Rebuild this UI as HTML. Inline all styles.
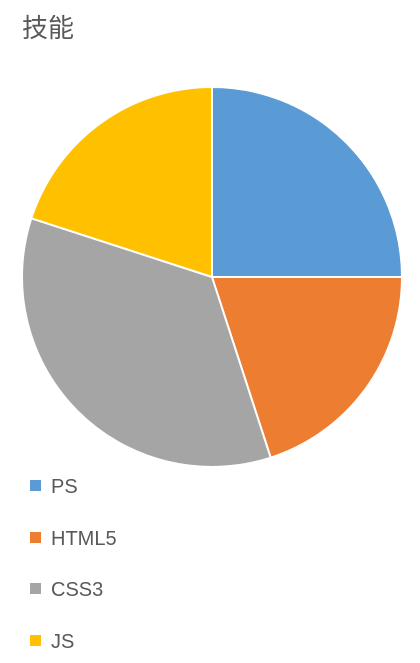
<!DOCTYPE html>
<html><head><meta charset="utf-8">
<style>
html,body{margin:0;padding:0;background:#fff;width:420px;height:663px;overflow:hidden}
body{font-family:"Liberation Sans","Noto Sans CJK SC",sans-serif}
#title{position:absolute;left:22px;top:8px;font-size:26px;color:#595959}
.leg{position:absolute;left:30px;font-size:20px;color:#595959;height:24px;line-height:24px}
.sw{display:inline-block;width:11px;height:11px;margin-right:10px;vertical-align:middle;position:relative;top:-2px}
</style></head>
<body>
<div id="title">技能</div>
<svg id="pie" width="420" height="663" style="position:absolute;left:0;top:0"></svg>
<div id="legend"></div>
<script>
const categories=["PS","HTML5","CSS3","JS"];
const values=[25,20,35,20];
const colors=["#5b9bd5","#ed7d31","#a5a5a5","#ffc000"];
const cx=212,cy=277,r=190;
const svg=document.getElementById('pie');
const total=values.reduce((a,b)=>a+b,0);
let acc=0;
function pt(f){const a=f*2*Math.PI;return [cx+r*Math.sin(a),cy-r*Math.cos(a)];}
values.forEach((v,i)=>{
  const s=acc/total,e=(acc+v)/total;acc+=v;
  const [x1,y1]=pt(s),[x2,y2]=pt(e);
  const p=document.createElementNS('http://www.w3.org/2000/svg','path');
  p.setAttribute('d',`M${cx},${cy}L${x1},${y1}A${r},${r} 0 ${e-s>0.5?1:0} 1 ${x2},${y2}Z`);
  p.setAttribute('fill',colors[i]);p.setAttribute('stroke','#fff');p.setAttribute('stroke-width','2');
  
  
  svg.appendChild(p);
});
const leg=document.getElementById('legend');
categories.forEach((c,i)=>{
  const d=document.createElement('div');d.className='leg';d.style.top=(475+i*51.5)+'px';
  d.innerHTML=`<span class="sw" style="background:${colors[i]}"></span>${c}`;
  
  
  leg.appendChild(d);
});
</script>
</body></html>
